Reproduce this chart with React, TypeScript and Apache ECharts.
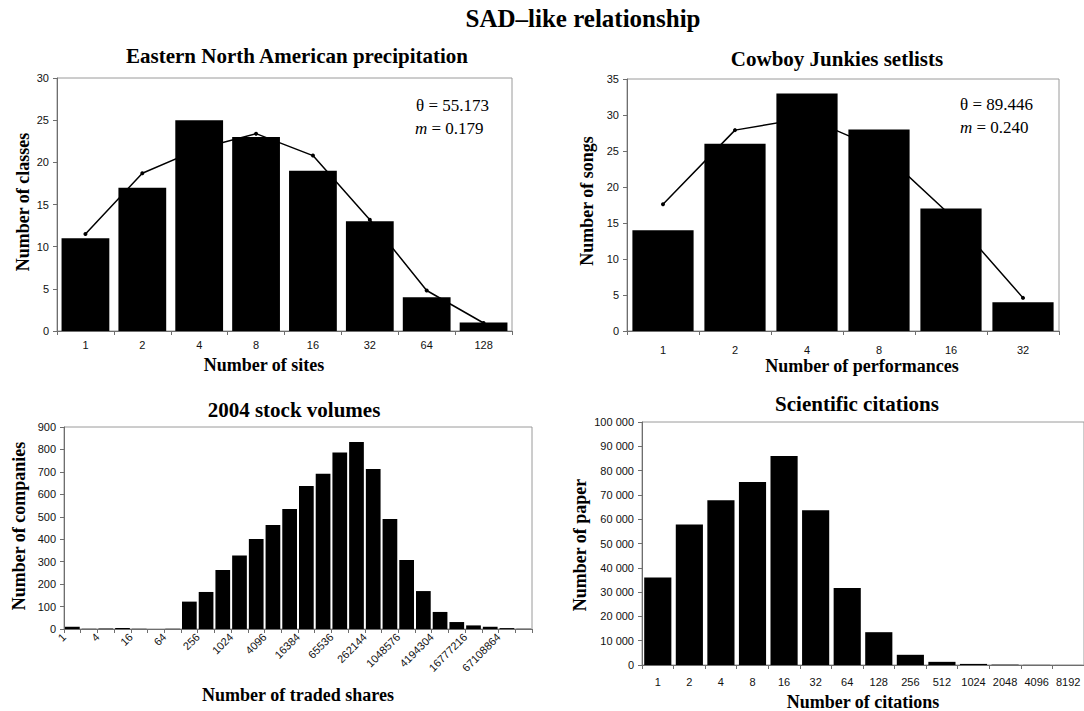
import React, { useEffect, useRef } from "react";
import * as echarts from "echarts";

// ---- Data ----
const precipCats = ["1", "2", "4", "8", "16", "32", "64", "128"];
const precipBars = [11, 17, 25, 23, 19, 13, 4, 1];
const precipFit = [11.5, 18.7, 21.6, 23.4, 20.8, 13.2, 4.8, 0.95];

const setlistCats = ["1", "2", "4", "8", "16", "32"];
const setlistBars = [14, 26, 33, 28, 17, 4];
const setlistFit = [17.6, 27.9, 29.6, 25.3, 16.0, 4.6];

const stockBins = [
  "1", "2", "4", "8", "16", "32", "64", "128", "256", "512", "1024", "2048", "4096", "8192",
  "16384", "32768", "65536", "131072", "262144", "524288", "1048576", "2097152", "4194304",
  "8388608", "16777216", "33554432", "67108864", "134217728",
];
const stockCounts = [
  10, 1, 2, 4, 1, 0, 1, 122, 165, 263, 328, 401, 463, 535, 637, 692, 786, 833, 713, 490,
  307, 169, 76, 31, 16, 10, 4, 1,
];
const stockTickLabels = [
  "1", "4", "16", "64", "256", "1024", "4096", "16384", "65536", "262144", "1048576",
  "4194304", "16777216", "67108864",
];

const citeCats = ["1", "2", "4", "8", "16", "32", "64", "128", "256", "512", "1024", "2048", "4096", "8192"];
const citeCounts = [36000, 57800, 67800, 75300, 86000, 63700, 31700, 13500, 4200, 1300, 450, 150, 60, 20];

const SERIF = "Liberation Serif";
const SANS = "Liberation Sans";

function spaced(v: number): string {
  if (v < 1000) return String(v);
  const th = Math.floor(v / 1000);
  const rest = v % 1000;
  return th + " " + String(rest).padStart(3, "0");
}

const axisLineStyle = { color: "#6e6e6e", width: 1 };
const labelStyle = { fontFamily: SANS, fontSize: 11, color: "#111" };

function catAxis(grid: number, data: string[], margin: number, showLabel = true) {
  return {
    type: "category",
    gridIndex: grid,
    data,
    position: "bottom",
    axisLine: { show: true, onZero: false, lineStyle: axisLineStyle },
    axisTick: { show: true, length: 4, interval: 0, lineStyle: axisLineStyle },
    axisLabel: { show: showLabel, interval: 0, margin, ...labelStyle },
    splitLine: { show: false },
  };
}

function valAxis(grid: number, max: number, interval: number, formatter?: (v: number) => string) {
  return {
    type: "value",
    gridIndex: grid,
    min: 0,
    max,
    interval,
    axisLine: { show: true, onZero: false, lineStyle: axisLineStyle },
    axisTick: { show: true, length: 4, lineStyle: axisLineStyle },
    axisLabel: { margin: 8, ...labelStyle, formatter: formatter || ((v: number) => String(v)) },
    splitLine: { show: false },
  };
}

function txt(x: number, y: number, text: string, size: number, bold = true, rotate = false): any {
  return {
    type: "text",
    x,
    y,
    rotation: rotate ? Math.PI / 2 : 0,
    style: {
      text,
      fontFamily: SERIF,
      fontSize: size,
      fontWeight: bold ? "bold" : "normal",
      fill: "#000",
      align: "center",
      verticalAlign: "middle",
      textAlign: "center",
      textVerticalAlign: "middle",
    },
  };
}

function annot(x: number, y: number, text: string): any {
  return {
    type: "text",
    x,
    y,
    style: {
      text,
      fontFamily: SERIF,
      fontSize: 17,
      fill: "#000",
      align: "left",
      verticalAlign: "middle",
      textAlign: "left",
      textVerticalAlign: "middle",
      rich: {
        i: { fontFamily: SERIF, fontSize: 17, fontStyle: "italic", fill: "#000" },
      },
    },
  };
}

export default function App() {
  const ref = useRef<HTMLDivElement>(null);
  useEffect(() => {
    if (!ref.current) return;
    const chart = echarts.init(ref.current, null, { renderer: "svg" });
    const gridBase = { show: true, borderColor: "#9a9a9a", borderWidth: 1, backgroundColor: "transparent", containLabel: false };
    const option: any = {
      animation: false,
      backgroundColor: "#fff",
      grid: [
        { ...gridBase, left: 57, top: 78, width: 455, height: 253 },
        { ...gridBase, left: 627, top: 79, width: 432, height: 252 },
        { ...gridBase, left: 64, top: 427, width: 468, height: 202 },
        { ...gridBase, left: 642, top: 422, width: 443, height: 243 },
      ],
      xAxis: [
        catAxis(0, precipCats, 8),
        catAxis(1, setlistCats, 13),
        catAxis(2, stockBins, 6, false),
        {
          type: "value",
          gridIndex: 2,
          position: "bottom",
          min: 0,
          max: stockBins.length,
          interval: 2,
          axisLine: { show: false, onZero: false },
          axisTick: { show: false },
          splitLine: { show: false },
          axisLabel: {
            show: true,
            rotate: 45,
            margin: 6,
            showMinLabel: true,
            showMaxLabel: true,
            ...labelStyle,
            formatter: (v: number) => stockTickLabels[Math.round(v / 2)] ?? "",
          },
        },
        catAxis(3, citeCats, 11),
      ],
      yAxis: [
        valAxis(0, 30, 5),
        valAxis(1, 35, 5),
        valAxis(2, 900, 100),
        valAxis(3, 100000, 10000, spaced),
      ],
      series: [
        {
          type: "line",
          xAxisIndex: 0,
          yAxisIndex: 0,
          data: precipFit,
          z: 1,
          symbol: "circle",
          symbolSize: 4,
          lineStyle: { color: "#000", width: 1.5 },
          itemStyle: { color: "#000" },
        },
        {
          type: "bar",
          xAxisIndex: 0,
          yAxisIndex: 0,
          data: precipBars,
          z: 3,
          barCategoryGap: "16%",
          itemStyle: { color: "#000" },
        },
        {
          type: "line",
          xAxisIndex: 1,
          yAxisIndex: 1,
          data: setlistFit,
          z: 1,
          symbol: "circle",
          symbolSize: 4,
          lineStyle: { color: "#000", width: 1.5 },
          itemStyle: { color: "#000" },
        },
        {
          type: "bar",
          xAxisIndex: 1,
          yAxisIndex: 1,
          data: setlistBars,
          z: 3,
          barCategoryGap: "15%",
          itemStyle: { color: "#000" },
        },
        {
          type: "bar",
          xAxisIndex: 2,
          yAxisIndex: 2,
          data: stockCounts,
          z: 3,
          barCategoryGap: "12%",
          itemStyle: { color: "#000" },
        },
        {
          type: "bar",
          xAxisIndex: 4,
          yAxisIndex: 3,
          data: citeCounts,
          z: 3,
          barCategoryGap: "14%",
          itemStyle: { color: "#000" },
        },
      ],
      graphic: [
        txt(583, 18, "SAD–like relationship", 25),
        txt(297, 56, "Eastern North American precipitation", 21),
        txt(837, 59, "Cowboy Junkies setlists", 21),
        txt(294, 410, "2004 stock volumes", 21),
        txt(857, 404, "Scientific citations", 21),
        txt(23, 202, "Number of classes", 18, true, true),
        txt(264, 365, "Number of sites", 18),
        txt(587, 201, "Number of songs", 18, true, true),
        txt(862, 366, "Number of performances", 18),
        txt(19, 526, "Number of companies", 18, true, true),
        txt(298, 695, "Number of traded shares", 18),
        txt(580, 545, "Number of paper", 18, true, true),
        txt(863, 702, "Number of citations", 18),
        annot(416, 105, "θ = 55.173"),
        annot(415, 128, "{i|m} = 0.179"),
        annot(960, 104, "θ = 89.446"),
        annot(960, 127, "{i|m} = 0.240"),
      ],
    };
    chart.setOption(option);
    return () => chart.dispose();
  }, []);
  return (
    <div
      ref={ref}
      style={{ position: "fixed", left: 0, top: 0, width: 1084, height: 711, background: "#fff" }}
    />
  );
}
